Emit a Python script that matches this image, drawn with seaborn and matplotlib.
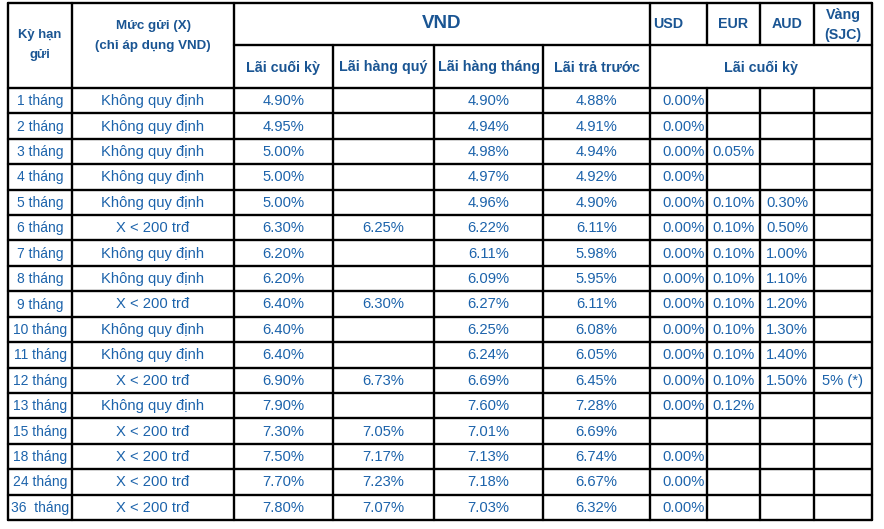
import matplotlib
matplotlib.use("Agg")
import matplotlib.pyplot as plt
import seaborn as sns
import pandas as pd

# ---------------- data ----------------
terms = ["1 tháng", "2 tháng", "3 tháng", "4 tháng", "5 tháng", "6 tháng",
         "7 tháng", "8 tháng", "9 tháng", "10 tháng", "11 tháng", "12 tháng",
         "13 tháng", "15 tháng", "18 tháng", "24 tháng", "36  tháng"]
KQD = "Không quy định"
LT200 = "X < 200 trđ"
deposit_level = [KQD, KQD, KQD, KQD, KQD, LT200, KQD, KQD, LT200, KQD, KQD,
                 LT200, KQD, LT200, LT200, LT200, LT200]
vnd_end = [4.90, 4.95, 5.00, 5.00, 5.00, 6.30, 6.20, 6.20, 6.40, 6.40, 6.40,
           6.90, 7.90, 7.30, 7.50, 7.70, 7.80]
vnd_quarter = [None, None, None, None, None, 6.25, None, None, 6.30, None, None,
               6.73, None, 7.05, 7.17, 7.23, 7.07]
vnd_month = [4.90, 4.94, 4.98, 4.97, 4.96, 6.22, 6.11, 6.09, 6.27, 6.25, 6.24,
             6.69, 7.60, 7.01, 7.13, 7.18, 7.03]
vnd_prepaid = [4.88, 4.91, 4.94, 4.92, 4.90, 6.11, 5.98, 5.95, 6.11, 6.08, 6.05,
               6.45, 7.28, 6.69, 6.74, 6.67, 6.32]
usd = [0.00, 0.00, 0.00, 0.00, 0.00, 0.00, 0.00, 0.00, 0.00, 0.00, 0.00,
       0.00, 0.00, None, 0.00, 0.00, 0.00]
eur = [None, None, 0.05, None, 0.10, 0.10, 0.10, 0.10, 0.10, 0.10, 0.10,
       0.10, 0.12, None, None, None, None]
aud = [None, None, None, None, 0.30, 0.50, 1.00, 1.10, 1.20, 1.30, 1.40,
       1.50, None, None, None, None, None]
gold = [None] * 11 + ["5% (*)"] + [None] * 5

header_top = ["Kỳ hạn\ngửi", "Mức gửi (X)\n(chỉ áp dụng VND)", "VND", "USD", "EUR", "AUD", "Vàng\n(SJC)"]
header_sub = ["Lãi cuối kỳ", "Lãi hàng quý", "Lãi hàng tháng", "Lãi trả trước", "Lãi cuối kỳ"]


def fmt(v):
    if v is None:
        return ""
    if isinstance(v, str):
        return v
    return f"{v:.2f}%"


df = pd.DataFrame({
    "term": terms, "level": deposit_level,
    "end": [fmt(v) for v in vnd_end], "quarter": [fmt(v) for v in vnd_quarter],
    "month": [fmt(v) for v in vnd_month], "prepaid": [fmt(v) for v in vnd_prepaid],
    "usd": [fmt(v) for v in usd], "eur": [fmt(v) for v in eur],
    "aud": [fmt(v) for v in aud], "gold": [fmt(v) for v in gold],
})

# ---------------- layout ----------------
sns.set_theme(style="white")
plt.rcParams["font.family"] = ["Liberation Sans", "DejaVu Sans"]

W, H = 884, 529
fig = plt.figure(figsize=(W / 100, H / 100), dpi=100)
ax = fig.add_axes([0, 0, 1, 1])
ax.set_xlim(0, W)
ax.set_ylim(H, 0)
ax.axis("off")

xs = [8, 72, 234, 333, 434, 543, 650, 707, 760, 814, 872]
y_top, y_mid, y_head = 3, 45, 88
y_bot = 520
n = len(terms)
rh = (y_bot - y_head) / n
ys = [y_head + i * rh for i in range(n + 1)]

HEAD = "#1a5593"
BODY = "#1c63ab"
LW = 1.7
LC = "black"

# horizontal lines
ax.plot([xs[0], xs[-1]], [y_top, y_top], color=LC, lw=LW)
ax.plot([xs[2], xs[-1]], [y_mid, y_mid], color=LC, lw=LW)
for y in ys:
    ax.plot([xs[0], xs[-1]], [y, y], color=LC, lw=LW)

# vertical lines
for i, x in enumerate(xs):
    if i in (0, 1, 2, 6, 10):
        ax.plot([x, x], [y_top, y_bot], color=LC, lw=LW)
    elif i in (3, 4, 5):
        ax.plot([x, x], [y_mid, y_bot], color=LC, lw=LW)
    else:  # 7, 8, 9
        ax.plot([x, x], [y_top, y_mid], color=LC, lw=LW)
        ax.plot([x, x], [y_head, y_bot], color=LC, lw=LW)

def cx(i, j=None):
    j = i + 1 if j is None else j
    return (xs[i] + xs[j]) / 2

y_r0 = 24
# headers
ax.text(cx(0), 45, header_top[0], ha="center", va="center", fontsize=9.4,
        fontweight="bold", color=HEAD, linespacing=1.85)
ax.text(cx(1), 36, header_top[1], ha="center", va="center", fontsize=9.6,
        fontweight="bold", color=HEAD, linespacing=1.85)
ax.text(cx(2, 6), y_r0 - 1, header_top[2], ha="center", va="center",
        fontsize=13.5, fontweight="bold", color=HEAD)
ax.text(xs[6] + 3, y_r0, header_top[3], ha="left", va="center",
        fontsize=10.3, fontweight="bold", color=HEAD)
ax.text(cx(7), y_r0, header_top[4], ha="center", va="center",
        fontsize=10.3, fontweight="bold", color=HEAD)
ax.text(cx(8), y_r0, header_top[5], ha="center", va="center",
        fontsize=10.3, fontweight="bold", color=HEAD)
ax.text(cx(9), y_r0 + 1, header_top[6], ha="center", va="center",
        fontsize=10.3, fontweight="bold", color=HEAD, linespacing=1.5)
for k in range(4):
    ax.text(cx(2 + k), (y_mid + y_head) / 2 + 1, header_sub[k], ha="center", va="center",
            fontsize=10.3, fontweight="bold", color=HEAD)
ax.text(cx(6, 10), (y_mid + y_head) / 2 + 1, header_sub[4], ha="center", va="center",
        fontsize=10.3, fontweight="bold", color=HEAD)

# body
cols = ["term", "level", "end", "quarter", "month", "prepaid", "usd", "eur", "aud", "gold"]
for r in range(n):
    yc = (ys[r] + ys[r + 1]) / 2 + 0.5
    for c, name in enumerate(cols):
        s = df.loc[r, name]
        if not s:
            continue
        if name == "usd":
            ax.text(xs[7] - 2, yc, s, ha="right", va="center", fontsize=10.6, color=BODY)
        else:
            fs = 10.0 if name == "term" else 10.6
            ax.text(cx(c), yc, s, ha="center", va="center", fontsize=fs, color=BODY)

fig.savefig("out.png", dpi=100, facecolor="white")
